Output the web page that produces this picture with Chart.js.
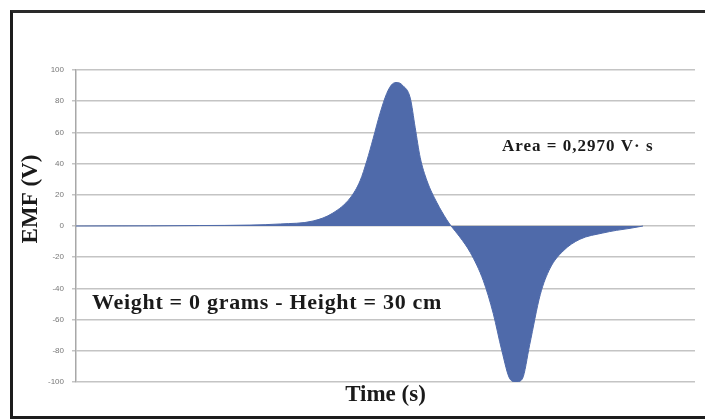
<!DOCTYPE html>
<html>
<head>
<meta charset="utf-8">
<script src="https://cdn.jsdelivr.net/npm/chart.js@4.4.0/dist/chart.umd.min.js"></script>
<style>
  html, body { margin: 0; padding: 0; background: #fff; }
  #frame {
    position: absolute; left: 10px; top: 10px;
    width: 700px; height: 403px;
    border-left: 3px solid #1c1c1c;
    border-top: 3px solid #2a2a2a;
    border-bottom: 3px solid #1c1c1c;
  }
  #wrap { position: absolute; left: 0; top: 0; width: 705px; height: 419px; }
</style>
</head>
<body>
<div id="frame"></div>
<div id="wrap"><canvas id="emfChart" width="705" height="419"></canvas></div>
<script>
// DATA (time in arbitrary units across the plot, EMF in volts)
const times = [0, 12, 20, 28.1, 33, 38.3, 41.5, 44.3, 45.9, 47, 48, 49.1, 50.2, 51.1, 51.9, 52.8,
               54, 54.8, 55.6, 56.7, 58.3, 59.9, 60.6, 62, 63.7, 65.8, 67.4, 68.8, 70.1, 71.1,
               72.1, 73.3, 75, 76.6, 78.7, 81.4, 85.1, 87.3, 89.5, 91.6];
const emf = [0, 0.1, 0.3, 0.6, 1.3, 3.2, 8.3, 18, 29, 42, 56, 72, 85, 91, 92, 90,
             82, 63, 44, 29, 15, 4, 0, -7, -17, -35, -56, -80, -98, -100,
             -98, -76, -44, -27, -16, -8.5, -4.5, -2.8, -1.5, 0];
const yTicks = [100, 80, 60, 40, 20, 0, -20, -40, -60, -80, -100];

const areaLabel = "Area = 0,2970 V\u00B7 s";
const caseLabel = "Weight = 0 grams - Height = 30 cm";

// TEXT ON THE PLOT
const notes = {
    id: "notes",
    afterDatasetsDraw(chart) {
        const c = chart.ctx;
        c.save();
        c.fillStyle = "#1a1a1a";
        c.textBaseline = "middle";
        c.textAlign = "left";
        c.letterSpacing = "1px";
        c.font = "bold 17px 'Liberation Serif'";
        c.fillText(areaLabel, 502, 147);
        c.letterSpacing = "0.7px";
        c.font = "bold 22px 'Liberation Serif'";
        c.fillText(caseLabel, 92, 303);
        // y axis title
        c.letterSpacing = "0px";
        c.translate(31, 199);
        c.rotate(-Math.PI / 2);
        c.textAlign = "center";
        c.font = "bold 23px 'Liberation Serif'";
        c.fillText("EMF (V)", 0, 0);
        c.restore();
    }
};

const ctx = document.getElementById("emfChart");

new Chart(ctx, {
    type: "line",
    data: {
        datasets: [{
            data: times.map((t, i) => ({ x: t, y: emf[i] })),
            fill: "origin",
            backgroundColor: "#4f6aaa",
            borderColor: "#4f6aaa",
            borderWidth: 1,
            pointRadius: 0,
            cubicInterpolationMode: "monotone"
        }]
    },
    options: {
        responsive: false,
        animation: false,
        layout: { padding: { left: 12, top: 70, right: 10, bottom: 6 } },
        plugins: { legend: { display: false }, tooltip: { enabled: false } },
        scales: {
            x: {
                type: "linear",
                min: 0,
                max: 100,
                grid: { display: false },
                border: { display: false },
                ticks: { display: false },
                title: {
                    display: true,
                    text: "Time (s)",
                    color: "#1a1a1a",
                    font: { family: "'Liberation Serif'", size: 23, weight: "bold" },
                    padding: { top: 4, bottom: 4 }
                },
                afterFit: s => { s.height = 31; }
            },
            y: {
                min: -100,
                max: 100,
                afterBuildTicks: s => { s.ticks = yTicks.map(v => ({ value: v })); },
                grid: { color: "#c4c4c4", lineWidth: 1.5, tickLength: 4 },
                border: { color: "#a8a8a8", width: 1.5 },
                ticks: {
                    color: "#777",
                    padding: 8,
                    font: { family: "'Liberation Sans'", size: 8 }
                },
                afterFit: s => { s.width = 64; }
            }
        }
    },
    plugins: [notes]
});
</script>
</body>
</html>
